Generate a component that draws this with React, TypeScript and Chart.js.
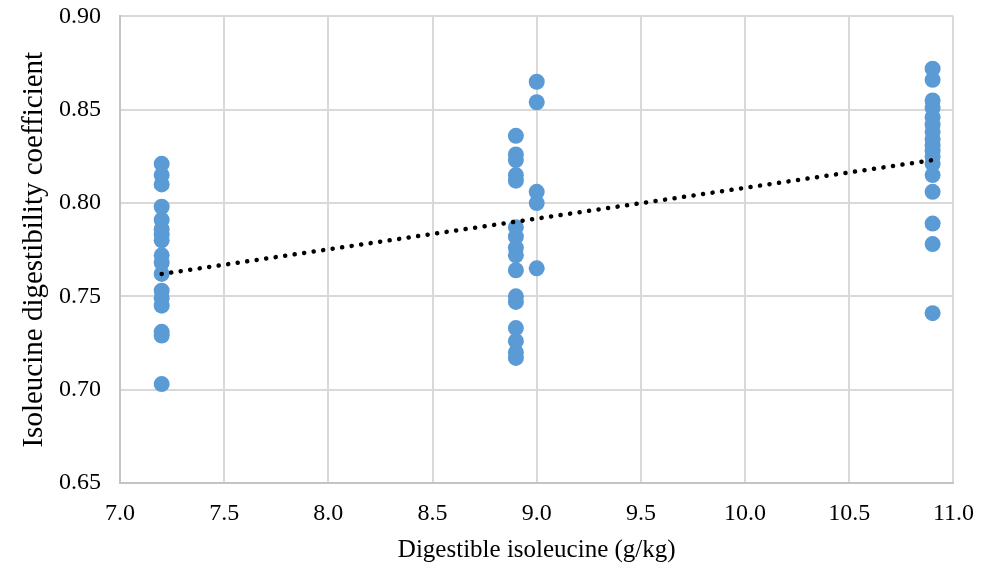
import React, { useEffect, useRef } from "react";
import { Chart, registerables } from "chart.js";
Chart.register(...registerables);

const X_LEVELS = [7.2, 8.9, 9.0, 10.9];
const Y_72 = [0.821, 0.815, 0.810, 0.798, 0.791, 0.786, 0.783, 0.780, 0.772, 0.768, 0.762, 0.753, 0.749, 0.745, 0.731, 0.729, 0.703];
const Y_89 = [0.836, 0.826, 0.823, 0.815, 0.812, 0.787, 0.782, 0.776, 0.772, 0.764, 0.750, 0.747, 0.733, 0.726, 0.720, 0.717];
const Y_90 = [0.865, 0.854, 0.806, 0.800, 0.765];
const Y_109 = [0.872, 0.866, 0.855, 0.851, 0.846, 0.842, 0.838, 0.834, 0.831, 0.828, 0.825, 0.821, 0.815, 0.806, 0.789, 0.778, 0.741];
const TREND_X = [7.2, 10.9];
const TREND_Y = [0.762, 0.823];
const X_TITLE = "Digestible isoleucine (g/kg)";
const Y_TITLE = "Isoleucine digestibility coefficient";

const SHIFT = 17;

export default function App() {
  const ref = useRef<HTMLCanvasElement>(null);
  useEffect(() => {
    document.body.style.margin = "0";
    const groups = [Y_72, Y_89, Y_90, Y_109];
    const pts: { x: number; y: number }[] = [];
    groups.forEach((g, i) => g.forEach((v) => pts.push({ x: X_LEVELS[i], y: v })));
    const font = "'Liberation Serif', 'Times New Roman', serif";
    const chart = new Chart(ref.current!, {
      type: "scatter",
      data: {
        datasets: [
          {
            label: "data",
            data: pts,
            backgroundColor: "#5b9bd5",
            borderWidth: 0,
            pointRadius: 8,
            pointHoverRadius: 8,
            order: 2,
          },
          {
            type: "line",
            label: "trend",
            data: TREND_X.map((x, i) => ({ x, y: TREND_Y[i] })),
            borderColor: "#000",
            borderWidth: 4.5,
            borderDash: [0.1, 9.5],
            borderCapStyle: "round",
            pointRadius: 0,
            fill: false,
            order: 1,
          } as any,
        ],
      },
      options: {
        animation: false,
        responsive: false,
        devicePixelRatio: 1,
        layout: { padding: { left: 0, right: 26, top: -5, bottom: 0 } },
        plugins: { legend: { display: false }, tooltip: { enabled: false } },
        scales: {
          x: {
            type: "linear",
            min: 7,
            max: 11,
            ticks: {
              stepSize: 0.5,
              color: "#000",
              font: { family: font, size: 24 },
              padding: 16,
              callback: (v: any) => Number(v).toFixed(1),
              maxRotation: 0,
            },
            grid: { color: "#d9d9d9", lineWidth: 2, drawTicks: false },
            border: { color: "#c4c4c4", width: 2 },
            title: { display: true, text: X_TITLE, color: "#000", font: { family: font, size: 25 }, padding: { top: 2 } },
            afterFit: (s: any) => { s.height = 86; },
          },
          y: {
            min: 0.65,
            max: 0.9,
            ticks: {
              stepSize: 0.05,
              color: "#000",
              font: { family: font, size: 24 },
              padding: 19,
              callback: (v: any) => Number(v).toFixed(2),
            },
            grid: { color: "#d9d9d9", lineWidth: 2, drawTicks: false },
            border: { color: "#c4c4c4", width: 2 },
            title: { display: true, text: Y_TITLE, color: "#000", font: { family: font, size: 29 }, padding: { top: 17, bottom: 0 } },
            afterFit: (s: any) => { s.width = 120; },
          },
        },
      },
    });
    return () => chart.destroy();
  }, []);
  return (
    <div style={{ width: 990, height: 569, background: "#fff", overflow: "hidden", position: "relative" }}>
      <canvas
        ref={ref}
        width={990}
        height={569 + SHIFT}
        style={{ display: "block", position: "absolute", left: 0, top: -SHIFT }}
      />
    </div>
  );
}
